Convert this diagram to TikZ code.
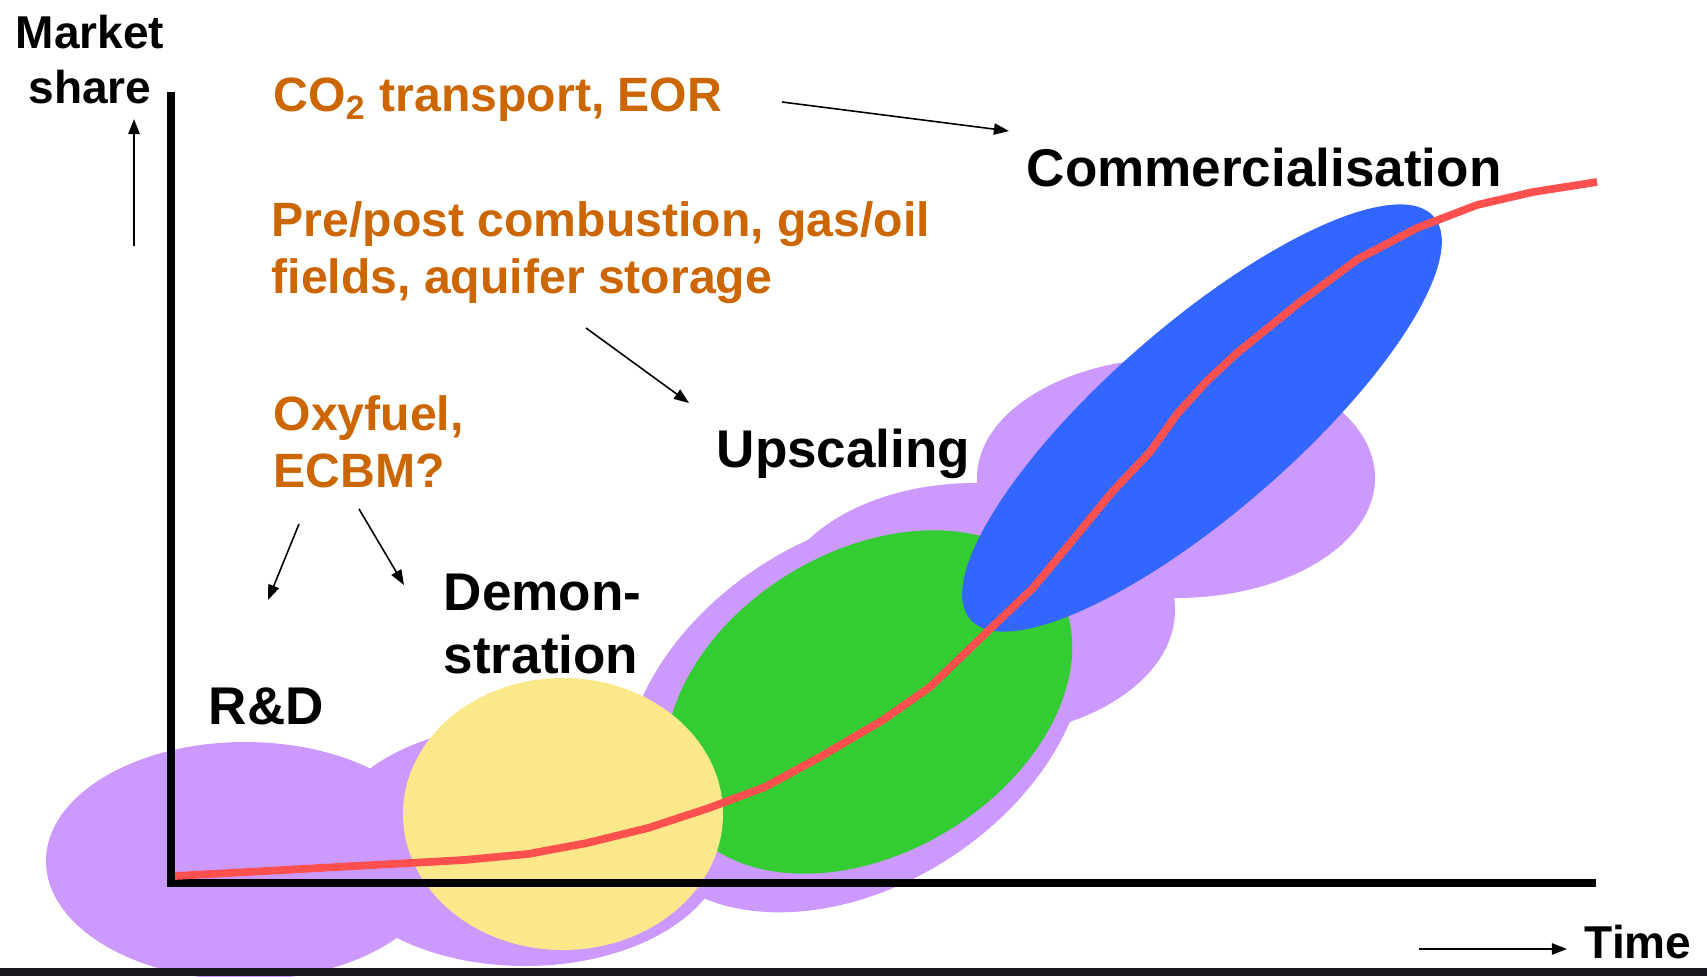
\documentclass[tikz,border=0pt]{standalone}
\usepackage{fontspec}
\setmainfont{Liberation Sans}
\usepackage{tikz}
\usetikzlibrary{arrows.meta}
\usepackage{color}
\definecolor{lavender}{RGB}{204, 153, 255}
\definecolor{butter}{RGB}{250, 232, 138}
\definecolor{grass}{RGB}{51, 204, 51}
\definecolor{royal}{RGB}{51, 102, 255}
\definecolor{coral}{RGB}{255, 80, 80}
\definecolor{ochre}{RGB}{204, 102, 0}
\definecolor{ink}{RGB}{24, 24, 28}
\tikzset{
  stagelabel/.style={inner sep=0pt, font=\fontsize{15.1}{17.9}\selectfont\bfseries, align=left},
  techlabel/.style={inner sep=0pt, text=ochre, font=\fontsize{13.7}{16.2}\selectfont\bfseries, align=left},
  axislabel/.style={inner sep=0pt, font=\fontsize{13.1}{15.9}\selectfont\bfseries, align=center},
  pointer/.style={-{Triangle[length=4.3pt,width=3.2pt]}, line width=0.45pt},
}
\begin{document}
\begin{tikzpicture}[x=1cm, y=-1cm]
            \useasboundingbox (0.00,0.00) rectangle (17.07,9.76);
            % cloud behind the stages
            \fill[lavender]                                                ( 2.45, 8.61) ellipse   (1.99 and 1.19);
            \fill[lavender]                                                ( 5.25, 8.45) ellipse   (2.00 and 1.21);
            \fill[lavender, rotate around={33:(8.55,7.12)}]                ( 8.55, 7.12) ellipse   (2.52 and 1.74);
            \fill[lavender]                                                ( 9.75, 6.10) ellipse   (2.00 and 1.27);
            \fill[lavender]                                                (11.76, 4.78) ellipse   (1.99 and 1.20);
            % stages
            \fill[grass,    rotate around={31:(8.69,7.02)}]                ( 8.69, 7.02) ellipse   (2.19 and 1.51);
            \fill[butter]                                                  ( 5.63, 8.14) ellipse   (1.60 and 1.36);
            \fill[royal,    rotate around={41:(12.02,4.18)}]               (12.02, 4.18) ellipse   (3.07 and 0.94);
            % axes
            \draw[line width=2.3pt] (1.71,0.92) -- (1.71,8.83) -- (15.96,8.83);
            \fill[ink] (0.00,9.68) rectangle (17.07,9.76);
            % market share curve
            \draw[coral, line width=2.2pt, line join=round]
                 (1.75,8.76) -- (4.64,8.60) -- (5.28,8.54) -- (5.87,8.43) -- (6.48,8.28) -- (7.09,8.08)
              -- (7.65,7.87) -- (8.20,7.57) -- (8.83,7.20) -- (9.30,6.87) -- (9.87,6.32) -- (10.33,5.88)
              -- (10.67,5.47) -- (11.13,4.91) -- (11.50,4.52) -- (11.77,4.14) -- (12.07,3.81) -- (12.37,3.53)
              -- (13.00,3.02) -- (13.58,2.59) -- (14.17,2.28) -- (14.77,2.05) -- (15.33,1.92) -- (15.97,1.82);
            % labels
            \node[axislabel, anchor=north]       (market)   at ( 0.90, 0.14) {Market\\share};
            \node[axislabel, anchor=base west]   (time)     at (15.84, 9.58) {Time};
            \node[techlabel, anchor=base west]   (co2)      at ( 2.73, 1.12) {CO\textsubscript{2} transport, EOR};
            \node[techlabel, anchor=north west]  (precomb)  at ( 2.71, 2.01) {Pre/post combustion, gas/oil\\fields, aquifer storage};
            \node[techlabel, anchor=north west]  (oxyfuel)  at ( 2.73, 3.95) {Oxyfuel,\\ECBM?};
            \node[stagelabel, anchor=base west]  (comm)     at (10.26, 1.87) {Commercialisation};
            \node[stagelabel, anchor=base west]  (upscale)  at ( 7.16, 4.67) {Upscaling};
            \node[stagelabel, anchor=north west] (demo)     at ( 4.43, 5.73) {Demon-\\stration};
            \node[stagelabel, anchor=base west]  (rnd)      at ( 2.08, 7.24) {R\&D};
            % pointers
            \coordinate (share start) at ( 1.34, 2.46);  \coordinate (share end) at ( 1.34, 1.19);
            \coordinate (time start)  at (14.19, 9.49);  \coordinate (time end)  at (15.67, 9.49);
            \coordinate (co2 start)   at ( 7.82, 1.02);  \coordinate (co2 end)   at (10.09, 1.31);
            \coordinate (pre start)   at ( 5.86, 3.28);  \coordinate (pre end)   at ( 6.89, 4.03);
            \coordinate (oxyl start)  at ( 2.99, 5.24);  \coordinate (oxyl end)  at ( 2.68, 6.00);
            \coordinate (oxyr start)  at ( 3.59, 5.09);  \coordinate (oxyr end)  at ( 4.04, 5.85);
            \draw[pointer, line width=0.55pt] (share start) -- (share end);
            \draw[pointer, line width=0.55pt] (time start)  -- (time end);
            \draw[pointer] (co2 start)  -- (co2 end);
            \draw[pointer] (pre start)  -- (pre end);
            \draw[pointer] (oxyl start) -- (oxyl end);
            \draw[pointer] (oxyr start) -- (oxyr end);
\end{tikzpicture}
\end{document}
